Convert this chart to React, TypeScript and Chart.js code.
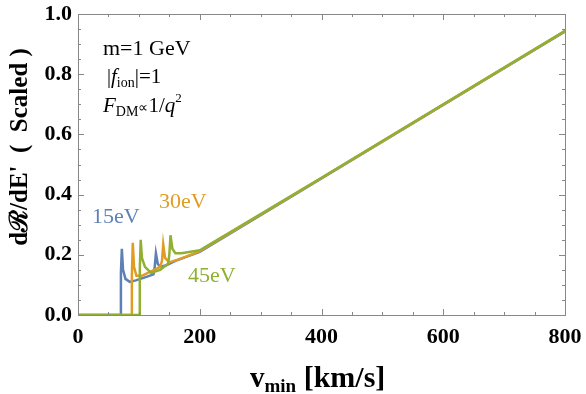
import React, { useEffect, useRef } from "react";
import { Chart, registerables } from "chart.js";
Chart.register(...registerables);

const xTickValues = [0, 200, 400, 600, 800];
const yTickValues = [0, 0.2, 0.4, 0.6, 0.8, 1.0];

const v15 = [0, 70, 70.5, 72, 74, 78, 85, 95, 110, 124, 126, 128, 131, 135, 145, 160, 180, 200, 300, 400, 500, 600, 700, 800];
const r15 = [0, 0, 0.14, 0.22, 0.15, 0.12, 0.11, 0.115, 0.125, 0.135, 0.16, 0.205, 0.17, 0.16, 0.165, 0.18, 0.195, 0.21, 0.332, 0.454, 0.576, 0.698, 0.82, 0.942];

const v30 = [0, 88, 88.5, 90, 92, 96, 105, 120, 135, 138, 140, 143, 150, 165, 185, 200, 300, 400, 500, 600, 700, 800];
const r30 = [0, 0, 0.13, 0.24, 0.16, 0.13, 0.13, 0.145, 0.16, 0.18, 0.235, 0.19, 0.175, 0.185, 0.2, 0.212, 0.333, 0.455, 0.577, 0.699, 0.821, 0.943];

const v45 = [0, 101, 101.5, 103, 105, 110, 120, 135, 148, 150, 152, 155, 160, 170, 185, 200, 300, 400, 500, 600, 700, 800];
const r45 = [0, 0, 0.15, 0.25, 0.19, 0.16, 0.14, 0.15, 0.17, 0.2, 0.265, 0.22, 0.205, 0.205, 0.21, 0.215, 0.335, 0.456, 0.578, 0.7, 0.822, 0.944];

const seriesLabels = ["15eV", "30eV", "45eV"];
const seriesColors = ["#5E81B5", "#E19C24", "#8FB032"];

const SERIF = "'Liberation Serif', 'Times New Roman', serif";

function drawRich(ctx: CanvasRenderingContext2D, x: number, y: number, segs: { t: string; f: string; dy?: number }[]) {
  let cx = x;
  for (const s of segs) {
    ctx.font = s.f;
    ctx.fillText(s.t, cx, y + (s.dy || 0));
    cx += ctx.measureText(s.t).width;
  }
}

const framePlugin = {
  id: "frameAndText",
  afterDraw(chart: any) {
    const ctx: CanvasRenderingContext2D = chart.ctx;
    const { left, right, top, bottom } = chart.chartArea;
    const xs = chart.scales.x;
    const ys = chart.scales.y;
    ctx.save();
    ctx.strokeStyle = "#888888";
    ctx.lineWidth = 1;
    ctx.strokeRect(left + 0.5, top + 0.5, right - left, bottom - top);
    ctx.beginPath();
    for (let v = 0; v <= 800; v += 50) {
      const px = Math.round(xs.getPixelForValue(v)) + 0.5;
      const len = v % 200 === 0 ? 6 : 3;
      ctx.moveTo(px, bottom); ctx.lineTo(px, bottom - len);
      ctx.moveTo(px, top); ctx.lineTo(px, top + len);
    }
    for (let i = 0; i <= 20; i++) {
      const v = i * 0.05;
      const py = Math.round(ys.getPixelForValue(v)) + 0.5;
      const len = i % 4 === 0 ? 6 : 3;
      ctx.moveTo(left, py); ctx.lineTo(left + len, py);
      ctx.moveTo(right, py); ctx.lineTo(right - len, py);
    }
    ctx.stroke();

    ctx.fillStyle = "#000";
    ctx.textBaseline = "alphabetic";
    ctx.textAlign = "left";
    // x title
    drawRich(ctx, 250, 387, [
      { t: "v", f: `bold 29px ${SERIF}` },
      { t: "min", f: `bold 19px ${SERIF}`, dy: 5 },
      { t: " [km/s]", f: `bold 30px ${SERIF}` },
    ]);
    // y title
    ctx.save();
    ctx.translate(27, 147);
    ctx.rotate(-Math.PI / 2);
    ctx.textAlign = "center";
    ctx.font = `bold 25px ${SERIF}`;
    ctx.fillText("dℛ/dE'  (  Scaled )", 0, 0);
    ctx.restore();

    // annotations
    drawRich(ctx, 103, 55, [{ t: "m=1 GeV", f: `22px ${SERIF}` }]);
    drawRich(ctx, 107, 83, [
      { t: "|", f: `20px ${SERIF}` },
      { t: "f", f: `italic 21px ${SERIF}` },
      { t: "ion", f: `14px ${SERIF}`, dy: 4 },
      { t: "|=1", f: `21px ${SERIF}` },
    ]);
    drawRich(ctx, 103, 112, [
      { t: "F", f: `italic 21px ${SERIF}` },
      { t: "DM", f: `14px ${SERIF}`, dy: 4 },
      { t: "∝", f: `14px ${SERIF}` },
      { t: "1/", f: `21px ${SERIF}` },
      { t: "q", f: `italic 21px ${SERIF}` },
      { t: "2", f: `13px ${SERIF}`, dy: -10 },
    ]);

    // series labels
    ctx.font = `22px ${SERIF}`;
    ctx.fillStyle = seriesColors[0];
    ctx.fillText(seriesLabels[0], 92, 223);
    ctx.fillStyle = seriesColors[1];
    ctx.fillText(seriesLabels[1], 159, 208);
    ctx.fillStyle = seriesColors[2];
    ctx.fillText(seriesLabels[2], 188, 282);
    ctx.restore();
  },
};

function toPts(xs: number[], ys: number[]) {
  return xs.map((x, i) => ({ x, y: ys[i] }));
}

export default function App() {
  const ref = useRef<HTMLCanvasElement | null>(null);
  useEffect(() => {
    if (!ref.current) return;
    const vs = [v15, v30, v45];
    const rs = [r15, r30, r45];
    const chart = new Chart(ref.current, {
      type: "scatter",
      data: {
        datasets: vs.map((v, i) => ({
          label: seriesLabels[i],
          data: toPts(v, rs[i]),
          showLine: true,
          borderColor: seriesColors[i],
          backgroundColor: seriesColors[i],
          borderWidth: 2.5,
          pointRadius: 0,
          tension: 0,
          order: 2 - i,
        })),
      },
      options: {
        animation: false,
        responsive: false,
        maintainAspectRatio: false,
        layout: { padding: { left: 0, top: 14, right: 21, bottom: 0 } },
        plugins: { legend: { display: false }, tooltip: { enabled: false } },
        scales: {
          x: {
            type: "linear",
            min: 0,
            max: 800,
            grid: { display: false, drawTicks: true, tickLength: 6 },
            border: { display: false },
            afterBuildTicks: (s: any) => { s.ticks = xTickValues.map((value) => ({ value })); },
            afterFit: (s: any) => { s.height = 79; },
            ticks: {
              color: "#000",
              padding: 3,
              maxRotation: 0,
              font: { family: SERIF, size: 22, weight: "bold" },
              callback: (v: any) => String(v),
            },
          },
          y: {
            type: "linear",
            min: 0,
            max: 1,
            grid: { display: false, drawTicks: true, tickLength: 6 },
            border: { display: false },
            afterBuildTicks: (s: any) => { s.ticks = yTickValues.map((value) => ({ value })); },
            afterFit: (s: any) => { s.width = 78; },
            ticks: {
              color: "#000",
              padding: 0,
              font: { family: SERIF, size: 22, weight: "bold" },
              callback: (v: any) => Number(v).toFixed(1),
            },
          },
        },
      },
      plugins: [framePlugin],
    } as any);
    return () => chart.destroy();
  }, []);
  return (
    <div style={{ position: "fixed", left: 0, top: 0, width: 586, height: 394, background: "#fff" }}>
      <canvas ref={ref} width={586} height={394} style={{ width: 586, height: 394 }} />
    </div>
  );
}
